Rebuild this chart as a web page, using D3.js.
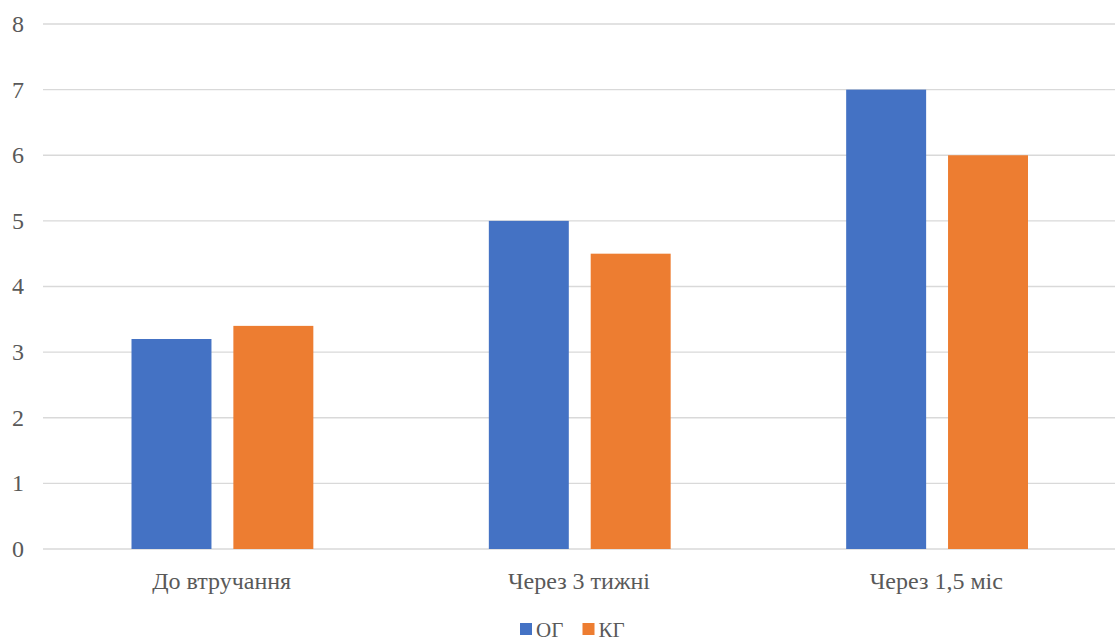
<!DOCTYPE html>
<html>
<head>
<meta charset="utf-8">
<script src="https://cdn.jsdelivr.net/npm/d3@7"></script>
<style>
  html, body { margin: 0; padding: 0; background: #fff; }
</style>
</head>
<body>
<svg id="chart" width="1115" height="642"></svg>
<script>
// Chart data
const categories = ["До втручання", "Через 3 тижні", "Через 1,5 міс"];
const seriesNames = ["ОГ", "КГ"];
const ogValues = [3.2, 5, 7];
const kgValues = [3.4, 4.5, 6];
const yTicks = [0, 1, 2, 3, 4, 5, 6, 7, 8];
const colors = ["#4472C4", "#ED7D31"];

const FONT = "Liberation Serif";
const AXIS_FONT_SIZE = 24;
const LEGEND_FONT_SIZE = 21;
const TEXT_COLOR = "#595959";

const svg = d3.select("#chart");
const margin = { left: 43, right: 0, top: 24, bottom: 93 };
const W = 1115, H = 642;
const plotW = W - margin.left - margin.right;
const plotH = H - margin.top - margin.bottom;

const x = d3.scaleBand().domain(categories).range([margin.left, margin.left + plotW]);
const inner = d3.scaleBand().domain(seriesNames).range([88.5, x.bandwidth() - 87]).paddingInner(0.215);
const y = d3.scaleLinear().domain([0, 8]).range([margin.top + plotH, margin.top]);

// horizontal gridlines
svg.append("g").selectAll("line").data(yTicks).join("line")
  .attr("x1", margin.left).attr("x2", W)
  .attr("y1", d => y(d)).attr("y2", d => y(d))
  .attr("stroke", "#d9d9d9").attr("stroke-width", 1.3);

// value axis labels
svg.append("g").selectAll("text").data(yTicks).join("text")
  .attr("x", 24).attr("y", d => y(d)).attr("dy", "0.33em")
  .attr("text-anchor", "end")
  .attr("font-family", FONT).attr("font-size", AXIS_FONT_SIZE).attr("fill", TEXT_COLOR)
  .text(d3.format("d"));

// grouped bars
const rows = categories.map((c, i) => ({ cat: c, vals: [ogValues[i], kgValues[i]] }));
const groups = svg.append("g").selectAll("g").data(rows).join("g")
  .attr("transform", d => `translate(${x(d.cat)},0)`);
groups.selectAll("rect").data(d => d.vals.map((v, j) => ({ name: seriesNames[j], v, j })))
  .join("rect")
  .attr("x", d => inner(d.name))
  .attr("width", inner.bandwidth())
  .attr("y", d => y(d.v))
  .attr("height", d => y(0) - y(d.v))
  .attr("fill", d => colors[d.j]);

// category labels
svg.append("g").selectAll("text").data(categories).join("text")
  .attr("x", d => x(d) + x.bandwidth() / 2).attr("y", y(0) + 40)
  .attr("text-anchor", "middle")
  .attr("font-family", FONT).attr("font-size", AXIS_FONT_SIZE).attr("fill", TEXT_COLOR)
  .text(d => d);

// legend
const legend = svg.append("g").attr("transform", "translate(520,623)");
const items = legend.selectAll("g").data(seriesNames).join("g")
  .attr("transform", (d, i) => `translate(${i * 62.5},0)`);
items.append("rect").attr("width", 12).attr("height", 12).attr("fill", (d, i) => colors[i]);
items.append("text").attr("x", 16).attr("y", 13.5)
  .attr("font-family", FONT).attr("font-size", LEGEND_FONT_SIZE).attr("fill", TEXT_COLOR)
  .text(d => d);
</script>
</body>
</html>
